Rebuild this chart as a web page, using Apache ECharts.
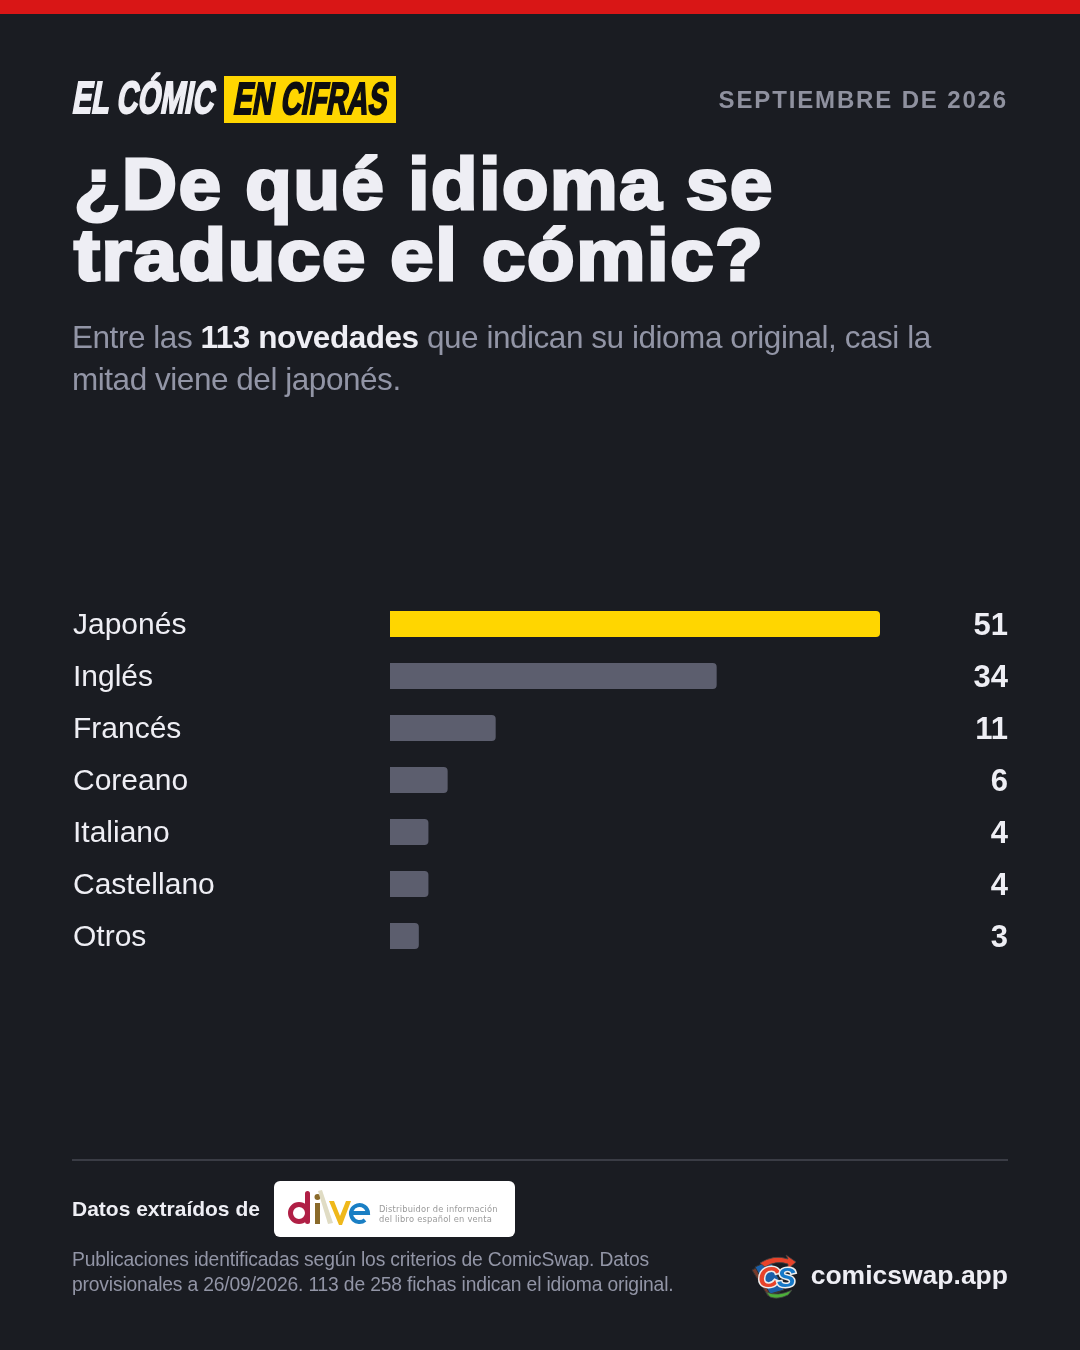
<!DOCTYPE html>
<html><head><meta charset="utf-8">
<script src="https://cdn.jsdelivr.net/npm/echarts@6/dist/echarts.min.js"></script>
<style>
html,body{margin:0;padding:0;background:#1a1c22;}
#root{position:relative;width:1080px;height:1350px;overflow:hidden;background:#1a1c22;font-family:"Liberation Sans",sans-serif;}
#root>*{position:absolute;}
#chart{left:0;top:0;width:1080px;height:1350px;}
.abs{white-space:nowrap;}
.comic{font-family:"Liberation Sans",sans-serif;font-weight:700;font-size:45px;line-height:45px;transform-origin:0 100%;}
.ttl{left:74px;font-weight:700;font-size:72px;line-height:71px;letter-spacing:1.6px;color:#eeeef4;-webkit-text-stroke:3px #eeeef4;transform-origin:0 50%;}
</style></head><body>
<div id="root">
<div id="chart"></div>
<div style="left:0;top:0;width:1080px;height:14px;background:#d91616"></div>
<div class="abs comic" style="left:70px;top:75px;color:#eeeef4;transform:skewX(-10deg) scaleX(.645);-webkit-text-stroke:2px #eeeef4;">EL CÓMIC</div>
<div style="left:224px;top:76px;width:172px;height:47px;background:#ffd600"></div>
<div class="abs comic" style="left:231px;top:76px;color:#0e0e10;transform:skewX(-10deg) scaleX(.633);-webkit-text-stroke:2px #0e0e10;">EN CIFRAS</div>
<div class="abs" style="right:72px;top:86px;font-weight:700;font-size:24px;line-height:28px;letter-spacing:1.85px;color:#8f919f;">SEPTIEMBRE DE 2026</div>
<div class="abs ttl" style="top:149px;transform:scaleX(1.055);">¿De qué idioma se</div>
<div class="abs ttl" style="top:220px;transform:scaleX(1.08);">traduce el cómic?</div>
<div class="abs" style="left:72px;top:316px;font-size:31.500px;line-height:42px;letter-spacing:-.46px;color:#9295a6;">Entre las <b style="color:#eeeef4">113 novedades</b> que indican su idioma original, casi la<br>mitad viene del japonés.</div>
<div style="left:72px;top:1159px;width:936px;height:2px;background:#3a3c45"></div>
<div class="abs" style="left:72px;top:1196px;font-weight:700;font-size:21px;line-height:26px;color:#eeeef4;">Datos extraídos de</div>
<div style="left:274px;top:1181px;width:241px;height:56px;background:#fff;border-radius:6px;"></div>
<svg style="left:274px;top:1181px" width="241" height="56" viewBox="0 0 241 56">
<circle cx="25" cy="32" r="8.500" fill="none" stroke="#b01f45" stroke-width="5"/>
<rect x="31" y="10" width="5" height="33" rx="2.500" fill="#b01f45"/>
<circle cx="43.500" cy="16" r="3" fill="#8a6a2a"/><rect x="41" y="22" width="5" height="21" fill="#8a6a2a"/>
<polygon points="44,10 48,9 59,42 54,43" fill="#e0dcc4"/>
<polygon points="55,20 60,20 66,35 72,20 77,20 68,44 65,44" fill="#efb81a"/>
<path d="M78 32 H94 A8.500 8.500 0 1 0 91 39" fill="none" stroke="#1a7fc4" stroke-width="4"/>
<text x="105" y="31" font-family="DejaVu Sans" font-size="8.300" letter-spacing=".2" fill="#9a9a9a">Distribuidor de información</text>
<text x="105" y="41" font-family="DejaVu Sans" font-size="8.300" letter-spacing=".2" fill="#9a9a9a">del libro español en venta</text>
</svg>
<div class="abs" style="left:72px;top:1247px;font-size:19.300px;line-height:25px;letter-spacing:-.17px;color:#9295a6;">Publicaciones identificadas según los criterios de ComicSwap. Datos<br>provisionales a 26/09/2026. 113 de 258 fichas indican el idioma original.</div>
<svg style="left:750px;top:1254px" width="52" height="46" viewBox="0 0 52 46">
<path d="M2 16 L18 8 L30 38 L18 42 Z" fill="#7a3a2a" stroke="#333" stroke-width="1"/>
<path d="M5 13 L20 6 L34 36 L20 40 Z" fill="#1b5fa8" stroke="#333" stroke-width="1"/>
<path d="M10 9 Q24 0 38 5 L36 1 L46 8 L38 15 L38 10 Q26 6 15 13 Z" fill="#e8432a" stroke="#444" stroke-width=".8"/>
<path d="M16 38 Q28 43 42 36 L38 41 Q28 46 20 43 Z" fill="#4caf3a" stroke="#444" stroke-width=".8"/>
<text x="8" y="33" font-family="Liberation Sans" font-weight="700" font-style="italic" font-size="30" fill="#e8432a" stroke="#eee" stroke-width="3" paint-order="stroke">C</text>
<text x="27" y="33" font-family="Liberation Sans" font-weight="700" font-style="italic" font-size="28" fill="#1578c8" stroke="#eee" stroke-width="3" paint-order="stroke">S</text>
</svg>
<div class="abs" style="right:72px;top:1259px;font-weight:700;font-size:26.500px;line-height:32px;color:#eeeef4;">comicswap.app</div>
</div>
<script>
var categories = ["Japonés","Inglés","Francés","Coreano","Italiano","Castellano","Otros"];
var values = [51,34,11,6,4,4,3];
var highlight = "Japonés";
var chart = echarts.init(document.getElementById('chart'));
chart.setOption({
  animation:false,
  backgroundColor:'transparent',
  grid:[{left:390,top:598,width:490,height:364},{left:390,top:600,width:490,height:364}],
  xAxis:[{type:'value',min:0,max:51,show:false,gridIndex:0},{type:'value',min:0,max:51,show:false,gridIndex:1}],
  yAxis:[{
    type:'category',inverse:true,data:categories,show:false,gridIndex:0
  },{
    type:'category',inverse:true,data:categories,gridIndex:1,
    axisLine:{show:false},axisTick:{show:false},splitLine:{show:false},
    axisLabel:{align:'left',margin:317,fontFamily:'Liberation Sans',fontSize:30,color:'#eeeef4'}
  },{
    type:'category',inverse:true,position:'right',data:values.map(String),gridIndex:1,
    axisLine:{show:false},axisTick:{show:false},splitLine:{show:false},
    axisLabel:{align:'right',margin:128,fontFamily:'Liberation Sans',fontWeight:700,fontSize:31,color:'#eeeef4'}
  }],
  series:[{
    type:'bar',barWidth:26,xAxisIndex:0,yAxisIndex:0,
    data:values.map(function(v,i){return {value:v,itemStyle:{color:categories[i]===highlight?'#ffd600':'#5c5e6e'}};}),
    itemStyle:{borderRadius:[0,4,4,0]},
    silent:true
  }]
});
</script>
</body></html>
